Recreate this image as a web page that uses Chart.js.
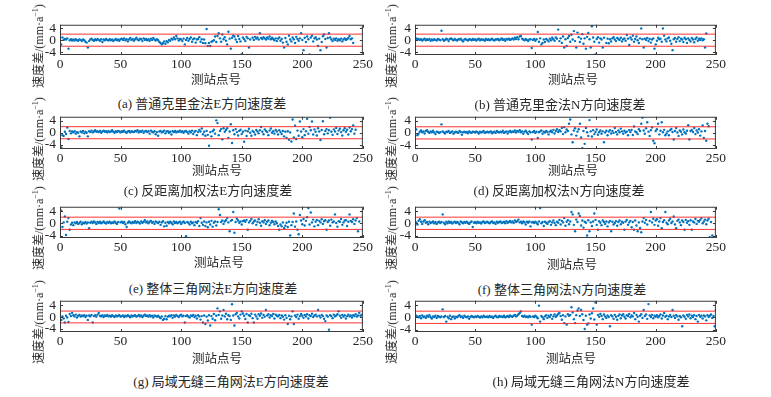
<!DOCTYPE html>
<html><head><meta charset="utf-8">
<script src="https://cdn.jsdelivr.net/npm/chart.js@4.4.1/dist/chart.umd.min.js"></script>
<style>
body{margin:0;width:771px;height:397px;background:#fff;position:relative;overflow:hidden;font-family:"Liberation Serif","Noto Sans CJK SC",serif;color:#262626}
canvas{position:absolute}
.t{position:absolute;white-space:nowrap;transform:translate(-50%,-50%);line-height:1}
.yl{position:absolute;white-space:nowrap;transform:translate(-50%,-50%) rotate(-90deg);font-size:12px;line-height:1}
sup{font-size:8px;vertical-align:5px;line-height:0}
</style></head><body>
<script>
const xTicks=[0,50,100,150,200,250];
const yTicks=[-4,0,4];
const limits=[2,-2];
const captions=["(a) 普通克里金法E方向速度差","(b) 普通克里金法N方向速度差","(c) 反距离加权法E方向速度差","(d) 反距离加权法N方向速度差","(e) 整体三角网法E方向速度差","(f) 整体三角网法N方向速度差","(g) 局域无缝三角网法E方向速度差","(h) 局域无缝三角网法N方向速度差"];
const xTitle="测站点号";

const eKriging=[-1.4,0.9,0.1,0.4,0.2,0.6,-2.8,0.0,0.3,-0.1,
0.2,-0.1,0.3,0.0,-0.2,0.2,0.1,-0.3,0.2,0.0,
-0.5,-0.8,-2.4,-0.3,0.2,0.5,0.1,-0.2,0.3,0.0,
0.4,0.1,-0.2,0.3,-0.6,0.2,0.0,0.4,0.1,-0.1,
0.3,0.0,0.2,-0.3,0.1,0.4,0.0,0.2,-0.2,0.3,
0.5,0.1,0.6,0.0,0.3,-0.4,0.2,0.7,0.1,0.4,
-0.2,0.3,0.8,0.2,0.0,0.5,0.3,-0.3,0.6,0.1,
0.4,0.0,0.3,-0.2,0.5,0.1,0.7,0.2,-0.1,0.3,
0.0,-0.6,-0.9,-1.4,-1.0,-0.4,-1.2,-0.3,-0.7,0.1,
-0.2,0.5,0.2,0.9,0.3,1.4,0.6,-0.1,0.4,0.2,
-0.3,0.5,-1.4,0.1,0.7,-0.2,0.4,0.9,-0.5,0.3,
0.6,-0.8,0.2,0.4,1.0,-0.5,0.3,-0.9,0.2,-1.0,
3.7,-1.9,-0.9,-1.9,-0.5,-0.3,0.0,1.2,-0.6,1.4,
2.3,0.6,-0.5,1.9,0.3,1.0,-0.2,-1.4,2.8,0.5,
-2.8,0.8,1.5,1.2,0.2,-0.6,1.4,0.4,-0.4,-4.6,
0.9,0.3,-0.3,1.1,0.6,-2.4,0.2,-4.9,0.8,0.1,
1.1,0.5,0.9,0.2,2.3,0.7,0.4,1.0,0.6,0.2,
0.9,0.5,1.2,0.3,0.8,0.4,0.0,0.6,-0.3,0.5,
0.9,-0.2,0.4,-0.8,-2.4,0.7,-0.5,-1.4,1.5,0.2,
-0.4,0.9,0.3,-0.9,1.1,0.4,-0.2,0.6,2.3,0.1,
-3.3,0.8,-0.6,1.2,0.3,-4.7,0.9,1.5,-0.4,0.6,
1.0,0.2,-1.9,0.5,-3.3,-0.6,1.3,1.9,0.4,-2.4,
0.7,2.3,0.9,0.2,-0.3,0.5,0.1,0.6,-0.2,0.3,
0.0,0.5,-0.4,0.2,0.6,0.1,0.4,0.7,1.4,0.3,0.6,-0.9];

const nKriging=[0.6,0.2,0.4,0.1,0.3,-0.1,0.2,0.5,0.0,0.3,
0.1,0.4,-0.2,0.2,0.0,0.3,0.1,-0.1,0.4,0.2,
0.0,3.1,0.3,-0.2,0.1,0.5,0.2,-0.3,0.4,0.6,
0.2,0.0,0.4,0.1,-0.1,0.3,0.2,0.5,0.0,-0.4,
0.2,0.4,0.1,-0.1,0.3,0.2,0.0,0.4,0.1,0.3,
-0.1,0.2,0.5,0.0,0.3,0.1,0.2,-0.2,0.4,0.1,
0.3,0.0,0.2,0.5,0.1,-0.1,0.3,0.2,0.4,0.0,
0.2,0.6,0.1,0.3,-0.2,0.4,0.2,0.5,0.1,0.3,
0.6,0.2,0.8,0.4,1.0,0.3,1.2,1.4,0.5,0.2,
0.0,0.4,0.1,-0.3,0.2,0.3,-2.6,0.1,0.4,-0.2,
0.3,2.7,-0.5,0.6,-1.4,-0.9,0.2,-0.6,0.4,0.1,
-0.4,0.5,0.0,0.8,0.3,-0.2,0.9,0.5,3.5,-0.3,
0.6,-0.9,1.2,-2.4,0.3,-1.9,0.7,1.4,-0.5,1.8,
0.2,3.0,-0.3,-2.4,2.5,1.0,-0.6,0.5,2.0,-1.2,
0.6,-2.8,1.1,2.4,0.3,-2.4,4.6,0.9,-0.5,-4.7,
0.4,1.0,-0.8,0.6,0.2,-2.4,0.8,-5.0,-0.9,0.5,
-1.0,0.3,-0.4,0.6,1.0,0.2,-0.3,0.7,0.4,0.1,
0.8,-0.4,0.3,0.6,-0.2,1.7,0.5,-1.6,0.9,0.2,
1.5,-0.5,0.4,1.2,0.0,-0.9,0.6,3.9,0.3,-2.4,
0.5,0.1,0.7,-0.3,0.4,-0.8,0.2,0.6,-2.8,-1.4,
-0.2,0.8,0.3,0.5,-0.5,3.9,1.5,0.2,-0.4,0.6,
0.9,-0.2,-1.2,-3.3,0.3,0.7,-0.5,0.4,1.0,-0.3,
0.5,0.2,-0.6,0.8,0.3,-0.9,0.6,0.1,-0.4,0.7,
0.2,-0.7,0.4,0.9,-0.2,0.5,0.1,0.6,0.0,0.3,-2.4,2.2];

const eIdw=[-4.9,-0.8,-1.1,0.3,-0.4,1.7,-2.1,0.6,-0.2,0.4,
0.1,0.5,-0.3,0.2,0.0,-1.2,0.4,0.1,0.6,-0.2,
0.3,0.0,-1.2,0.5,0.2,0.7,0.1,0.4,0.8,0.3,
0.5,0.2,0.6,0.0,0.4,0.7,0.3,0.5,0.1,0.6,
0.2,0.4,0.8,0.3,0.0,0.5,0.2,0.6,0.4,0.1,
0.5,0.3,0.7,0.2,0.0,0.4,0.6,0.1,0.5,0.3,
0.2,0.6,0.4,0.8,0.1,0.5,0.3,0.7,0.0,0.4,
0.6,0.2,0.5,-0.3,0.7,0.3,0.1,0.5,-0.5,0.2,
-1.0,0.4,0.6,0.1,0.3,0.7,-0.2,0.4,0.5,0.0,
0.3,-0.6,0.5,0.2,0.6,0.1,0.4,0.3,0.7,0.2,
0.5,0.0,0.4,0.6,0.2,-0.3,0.5,0.1,0.7,-0.4,
0.3,0.6,-0.8,0.2,0.9,0.4,1.4,-0.5,0.3,-1.0,
0.6,-0.7,-4.3,0.2,-1.2,0.5,1.0,-0.3,4.1,3.2,
-0.8,0.6,1.2,-2.2,1.5,0.3,0.9,1.5,-1.7,0.4,
2.8,-3.4,0.8,-0.5,1.2,0.2,-0.9,0.6,1.0,-0.4,
0.3,-3.0,0.7,-1.1,0.5,1.3,0.0,-1.0,0.6,0.2,
-0.6,0.9,0.4,-0.2,0.8,1.9,0.3,-0.5,1.1,0.6,
0.2,-0.8,0.7,1.4,0.0,0.5,-0.3,0.9,0.4,-0.6,
0.8,0.2,-0.4,0.6,-1.2,0.3,-1.7,0.5,-2.3,0.1,
-2.9,4.4,-1.6,2.3,-2.1,0.7,-1.0,3.7,0.4,-1.5,
1.2,-0.8,0.5,4.6,-0.3,1.9,0.8,3.7,-0.6,1.1,
0.3,-0.9,1.5,0.4,-2.4,0.9,3.8,-0.5,0.6,1.2,
-0.2,0.8,5.0,0.3,-0.7,1.1,0.4,1.6,-0.4,0.7,
1.3,0.2,-0.9,0.8,1.5,0.3,1.0,-0.6,1.7,0.5,
1.2,2.4,-0.3,1.0];

const nIdw=[1.1,-0.8,-0.3,0.4,0.8,0.2,0.5,-0.2,0.6,0.9,
0.3,0.0,0.5,0.2,0.7,0.1,-0.4,0.4,0.3,0.0,
0.2,2.8,0.5,0.1,-0.2,0.4,0.3,0.6,0.0,0.2,
0.5,-0.3,0.1,0.4,0.2,0.0,0.6,0.3,-0.6,0.2,
0.4,0.1,0.3,-0.1,0.5,0.2,0.0,0.4,0.3,0.1,
0.5,0.2,-0.2,0.4,0.1,0.3,0.6,0.0,0.2,0.4,
0.1,0.3,0.5,-0.1,0.2,0.4,0.0,0.6,0.3,0.1,
0.4,0.2,0.7,0.0,0.3,0.5,-0.2,0.4,0.6,0.2,
0.5,0.3,0.8,0.1,0.6,0.4,0.9,0.2,0.5,-0.3,
0.4,0.7,0.1,-0.4,0.5,0.2,-2.2,0.3,0.6,0.0,
0.4,-1.7,0.2,0.5,0.8,-0.3,0.4,0.1,0.6,0.3,
-0.5,0.4,0.7,0.2,1.0,-0.2,0.6,1.2,0.3,0.9,
0.5,1.6,-0.4,1.9,0.2,1.1,0.6,3.0,4.4,-0.5,
-3.1,0.8,1.5,-0.9,0.4,1.2,3.0,-1.5,-5.0,0.6,
-3.6,1.6,0.2,-1.0,4.2,0.5,-1.2,0.9,-0.4,0.3,
1.1,-0.6,0.2,0.8,-0.3,0.5,-3.1,0.1,0.7,-0.8,
0.4,0.9,-0.2,0.6,0.0,1.6,0.3,-0.5,0.8,0.2,
1.4,0.5,-0.3,0.7,0.1,0.4,-0.8,0.9,0.3,1.0,
-0.7,2.1,0.5,0.2,-0.4,1.2,0.6,3.0,5.0,0.8,
-0.3,1.5,3.5,0.4,-1.0,0.9,1.8,-2.6,-3.4,0.6,
1.2,3.0,-0.5,0.7,3.5,0.2,1.0,-0.8,-0.2,0.5,
-0.8,0.9,1.3,0.3,-2.2,0.6,1.6,0.1,-1.0,0.8,
0.4,-0.5,1.1,0.2,-0.2,0.7,2.5,-2.2,0.6,1.0,
0.3,1.6,-0.4,0.8,0.1,1.2,-0.9,0.5,2.4,-1.7,
0.6,-2.6,3.0,2.2];

const eWhole=[4.1,-1.2,0.3,2.2,-3.8,0.5,1.7,-2.1,-0.4,0.2,
-0.6,0.3,0.0,0.4,-0.2,0.1,0.5,-0.3,0.2,0.0,
0.4,-0.1,0.3,-1.6,0.2,0.5,0.1,0.6,0.3,-0.2,
0.4,0.1,0.5,0.0,0.3,0.6,0.2,-0.1,0.4,0.2,
0.5,0.0,0.3,0.1,0.6,0.2,-0.2,0.4,4.8,0.3,
0.5,0.1,0.4,-0.3,-1.2,0.2,0.6,0.3,0.0,0.4,
0.2,0.7,0.1,0.5,0.3,-0.1,0.6,0.2,0.4,1.0,
0.3,0.6,0.0,0.5,0.8,0.2,0.4,-0.2,0.6,0.3,
0.1,0.5,-0.5,0.3,0.7,-1.0,0.2,-0.8,0.4,0.0,
0.5,0.2,-0.3,0.6,0.1,0.4,0.0,0.3,0.5,-0.2,
0.3,0.6,0.1,-4.2,0.4,0.2,-0.4,0.5,0.0,0.3,
-0.6,0.4,0.1,0.7,-0.9,1.7,0.2,-0.5,0.6,-0.9,
0.3,-1.3,0.5,-0.4,0.8,-1.1,0.2,0.6,-0.7,0.4,
4.6,2.7,0.4,0.9,-0.2,0.6,1.0,1.7,0.3,-2.6,
0.8,1.1,3.7,-3.1,0.4,1.5,0.9,0.2,0.6,-0.4,
0.7,0.9,0.5,1.1,-2.1,0.3,0.8,1.4,0.0,0.6,
0.9,-0.5,0.4,1.3,0.2,-0.8,0.7,0.3,1.0,-0.2,
0.5,0.9,-0.6,0.2,0.8,0.4,-0.3,0.6,0.0,-0.9,
-2.1,-0.4,-1.0,0.3,-1.6,-0.8,0.2,-1.2,0.5,-4.0,
-0.6,0.4,3.2,-1.1,0.6,-2.1,-3.6,2.7,0.9,-0.3,
1.4,-0.7,0.8,2.0,5.0,-0.4,3.5,0.3,1.2,-1.0,
0.5,1.1,-0.6,0.8,0.3,1.3,-0.2,0.7,1.0,-2.1,
0.4,0.9,-0.8,1.2,0.3,0.6,2.9,0.1,-1.1,0.7,
0.5,1.4,-0.5,0.3,0.9,1.0,-0.9,0.5,2.9,0.8,
0.4,1.3,-0.2,0.9,1.7,-2.6,0.6];

const nWhole=[0.3,-0.4,0.8,1.3,0.5,-0.2,0.6,1.0,0.2,0.4,
-0.3,0.5,0.1,0.3,0.6,0.0,0.4,-0.2,0.3,0.5,
0.1,0.4,2.9,0.2,-0.3,0.5,0.0,0.6,0.2,0.4,
-0.1,0.3,0.5,0.1,0.4,0.2,-0.3,0.6,0.3,0.0,
0.4,0.2,0.5,0.1,-0.2,0.3,0.6,-1.2,0.2,0.4,
0.0,0.5,0.2,0.3,-0.1,0.4,0.6,0.1,0.3,0.5,
0.2,0.0,0.4,0.6,0.1,0.3,-0.2,0.5,0.2,0.4,
0.6,0.1,0.3,0.5,0.0,0.7,0.2,0.4,0.8,0.3,
0.6,0.1,0.9,0.4,0.7,1.2,0.3,0.5,0.0,0.6,
0.3,-0.4,0.5,0.2,0.6,-1.0,0.3,0.4,0.1,0.5,
0.2,-0.3,0.6,5.0,0.0,0.4,-0.9,0.5,0.2,-0.2,
0.4,0.7,-0.5,0.3,0.9,0.1,-0.6,0.5,0.2,1.1,
-0.4,0.8,0.3,1.7,-0.8,0.5,1.0,-0.3,0.6,3.7,
2.9,-0.5,-2.6,1.2,0.4,3.2,2.4,-0.7,0.9,-1.4,
0.5,0.2,-4.0,1.0,-2.6,0.3,-0.9,0.6,3.2,1.1,
-0.5,-2.1,0.7,0.2,-0.6,0.9,0.4,-0.2,0.6,-1.0,
0.3,0.8,-2.6,0.5,-0.4,0.1,0.7,-0.8,0.4,0.9,
-0.3,0.5,0.2,-2.1,0.6,1.1,-0.5,0.3,0.8,-1.3,
0.4,-2.1,0.9,-0.7,-2.6,0.3,-1.5,-2.9,0.6,1.7,
0.2,1.1,-0.4,-5.0,0.8,3.7,0.3,1.5,-0.5,0.9,
1.3,-0.8,0.6,1.7,-1.6,0.4,1.0,3.7,0.2,-0.3,
0.9,1.5,0.1,0.6,2.2,-0.4,-1.6,0.8,1.2,0.3,
-0.6,0.9,0.4,-2.1,1.1,0.2,0.7,-0.5,1.0,-2.1,
0.6,0.3,1.4,-0.2,0.8,0.5,1.1,1.7,0.0,0.6,
1.2,-0.3,0.9,1.5,-4.5,0.4,-4.0];

const eLocal=[-1.0,0.2,-0.5,-1.9,0.4,-0.2,-1.7,1.0,0.3,1.4,
0.6,0.2,0.8,-0.2,0.4,0.7,0.1,0.5,0.3,0.6,
0.0,0.4,-1.0,0.5,0.2,0.7,-1.9,0.3,0.6,0.1,
0.8,1.4,0.4,0.2,0.6,0.0,0.5,0.3,0.7,0.2,
0.4,0.1,0.6,0.3,0.0,0.5,0.2,0.4,0.6,0.1,
0.3,0.5,0.0,0.4,0.2,0.6,0.3,-0.1,0.5,0.2,
0.4,0.6,0.1,0.3,0.7,0.2,0.5,0.0,0.4,0.8,
0.3,0.5,0.1,0.6,0.2,0.4,-0.2,0.5,0.3,0.1,
0.4,0.0,-0.4,0.2,-1.0,-0.6,0.3,-0.8,0.1,0.4,
0.2,0.6,-0.3,0.5,0.1,0.7,0.3,0.0,0.5,0.8,
0.2,0.4,-1.9,0.3,0.6,0.1,-0.2,0.5,0.3,0.7,
0.0,0.4,-0.5,0.6,0.2,-0.9,0.3,-1.9,0.5,-2.4,
0.1,-1.2,0.6,-2.9,0.3,-0.6,1.0,-1.1,0.4,2.9,
0.7,1.9,-0.6,0.5,2.4,0.2,1.1,-0.8,0.6,0.3,
-1.0,4.3,0.5,-2.9,0.9,1.4,0.2,-0.5,0.8,1.9,
1.2,0.4,-0.7,1.0,-1.9,0.6,0.3,1.1,-0.4,-1.9,
0.8,0.2,-0.6,0.9,0.4,1.2,-0.3,0.7,0.1,2.4,
0.5,0.9,-0.2,0.6,0.3,1.0,-0.5,0.8,0.4,0.2,
0.7,-0.4,0.5,0.1,-0.9,0.6,-0.3,-2.4,0.4,-0.8,
0.2,1.9,-2.4,0.5,0.0,0.8,-0.6,0.3,1.0,0.4,
-0.3,0.7,0.2,0.9,-0.5,0.6,0.3,1.1,0.0,0.5,
0.8,0.2,2.4,0.4,-0.2,0.7,0.3,-0.6,-1.4,0.5,
0.1,-4.3,0.6,0.3,-0.4,0.8,0.2,0.5,0.9,1.9,
0.4,-0.3,0.7,0.1,0.6,-0.5,0.3,0.8,0.2,0.5,
-0.2,0.6,0.3,0.9,0.1,0.5,1.4,0.4,0.7,-1.0];

const nLocal=[0.5,0.2,0.0,0.4,-0.3,0.6,0.1,0.3,-0.2,0.5,
0.2,0.7,0.0,-0.4,0.3,0.1,0.5,-0.2,0.4,0.2,
0.0,0.3,2.6,0.1,0.4,-1.4,0.2,-0.3,0.5,-0.6,
0.1,0.3,-0.4,0.2,0.0,0.4,0.7,0.1,0.3,-0.2,
0.5,0.2,0.0,0.3,-0.5,0.1,0.4,0.2,0.0,0.3,
0.1,0.4,0.2,-0.1,0.3,0.0,0.5,0.2,0.1,0.3,
0.0,0.4,0.1,0.2,-0.2,0.3,0.5,0.1,0.0,0.4,
0.2,0.3,0.1,0.5,0.0,0.2,0.4,0.1,0.6,0.3,
0.2,0.5,0.8,0.3,0.6,1.0,1.4,1.9,0.4,0.2,
0.5,0.1,0.3,0.0,0.4,0.2,-2.4,0.3,0.1,0.5,
0.2,-0.3,3.8,-1.4,0.4,0.0,-0.6,0.3,0.7,-0.2,
0.5,0.1,0.8,-0.5,0.3,0.9,0.2,0.6,1.1,1.4,
0.4,-0.8,0.7,-1.9,0.3,-2.4,1.0,0.5,0.8,3.3,
1.6,-0.6,-1.9,0.7,2.2,2.9,0.4,2.4,1.0,-0.9,
-3.8,0.5,-2.4,-2.0,0.9,-0.4,1.3,2.9,-0.7,4.8,
-2.4,0.8,0.2,1.1,0.4,-0.6,0.9,0.3,-0.2,0.6,
0.1,-2.9,0.7,0.3,-0.5,0.8,0.2,-0.8,0.5,0.9,
-0.3,0.6,1.0,0.2,-0.4,0.7,0.4,1.1,0.0,0.6,
0.3,1.4,-0.6,0.8,0.2,-1.4,0.5,1.0,-0.2,2.4,
0.4,0.9,-0.5,4.3,0.6,0.1,0.8,-0.3,0.5,0.2,
0.7,0.0,0.4,0.9,-0.4,0.6,1.4,0.2,0.5,-0.6,
0.3,0.8,0.1,2.4,0.5,-0.2,0.7,0.3,-0.8,0.4,
0.0,-2.9,0.6,0.2,-0.5,0.8,0.3,0.9,-0.3,0.5,
0.1,0.7,-0.6,0.4,-1.4,0.8,0.2,0.5,-0.4,0.6,
0.3,-1.0,0.7,0.1,0.5,0.9,-0.2,0.4,-2.9,2.4];

const series=[eKriging,nKriging,eIdw,nIdw,eWhole,nWhole,eLocal,nLocal];
// layout (pixels): plot box [left, top, right, bottom]
const boxes=[[60,20,368,55],[415,20,721,55],[60,112,368,149],[415,112,721,149],[60,202,368,238],[415,202,721,238],[60,296,368,332],[415,296,721,332]];
const yRanges=[[-4.9,5.1],[-4.9,5.1],[-5.4,5.3],[-5.3,5.3],[-4.8,5.4],[-4.8,5.4],[-5.1,5.5],[-4.8,5.4]];
const capPos=[[202,103],[560,104],[208,190],[559,190],[213,288],[562,289],[231,381],[591,381]];
const xtPos=[[216,80],[573,80],[217,171],[573,171],[219,263],[572,265],[217,359],[571,359]];

const PL=40,PR=8,PT=6,PB=22;
const boxPlugin={id:'box',afterDatasetsDraw(c){
  const {ctx,chartArea:a,scales:{x,y}}=c;
  ctx.save();ctx.strokeStyle='#3a3a3a';ctx.lineWidth=1;
  ctx.strokeRect(a.left+.5,a.top+.5,a.right-a.left-1,a.bottom-a.top-1);
  ctx.beginPath();
  xTicks.forEach(v=>{const p=Math.round(x.getPixelForValue(v))+.5;ctx.moveTo(p,a.bottom);ctx.lineTo(p,a.bottom-3);ctx.moveTo(p,a.top);ctx.lineTo(p,a.top+3);});
  yTicks.forEach(v=>{const p=Math.round(y.getPixelForValue(v))+.5;ctx.moveTo(a.left,p);ctx.lineTo(a.left+3,p);ctx.moveTo(a.right,p);ctx.lineTo(a.right-3,p);});
  ctx.stroke();ctx.restore();
}};

function addText(cls,html,x,y,size){const d=document.createElement('div');d.className=cls;d.innerHTML=html;d.style.left=x+'px';d.style.top=y+'px';if(size)d.style.fontSize=size+'px';document.body.appendChild(d);}

series.forEach((vals,k)=>{
  const [L,T,R,B]=boxes[k];
  const cv=document.createElement('canvas');
  const W=R-L+PL+PR,H=B-T+PT+PB;
  cv.width=W;cv.height=H;cv.style.width=W+'px';cv.style.height=H+'px';
  cv.style.left=(L-PL)+'px';cv.style.top=(T-PT)+'px';
  document.body.appendChild(cv);
  const tickFont={family:'Liberation Serif',size:13.5,lineHeight:1};
  new Chart(cv,{type:'scatter',
    data:{datasets:[
      {data:vals.map((v,i)=>({x:i+1,y:v})),backgroundColor:'#0072BD',borderWidth:0,pointRadius:1.2,pointHoverRadius:1.2,order:2},
      ...limits.map(l=>({data:[{x:0,y:l},{x:250,y:l}],showLine:true,borderColor:'rgba(255,30,30,0.9)',borderWidth:1,pointRadius:0,order:1}))
    ]},
    options:{responsive:false,animation:false,devicePixelRatio:1,events:[],
      layout:{padding:{left:0,right:PR,top:PT,bottom:0}},
      plugins:{legend:{display:false},tooltip:{enabled:false}},
      scales:{
        x:{type:'linear',min:0,max:250,afterBuildTicks:s=>{s.ticks=xTicks.map(v=>({value:v}));},afterFit:s=>{s.height=PB;},
           grid:{display:false,drawTicks:false},border:{display:false},
           ticks:{padding:3,color:'#262626',font:tickFont,maxRotation:0,autoSkip:false}},
        y:{type:'linear',min:yRanges[k][0],max:yRanges[k][1],afterBuildTicks:s=>{s.ticks=yTicks.map(v=>({value:v}));},afterFit:s=>{s.width=PL;},
           grid:{display:false,drawTicks:false},border:{display:false},
           ticks:{padding:4,color:'#262626',font:tickFont,autoSkip:false}}
      }},
    plugins:[boxPlugin]});
  addText('t',captions[k],capPos[k][0],capPos[k][1],13);
  addText('t',xTitle,xtPos[k][0],xtPos[k][1],12.5);
  const cx=k%2===0?39:392;
  addText('yl','速度差/(mm·a<sup>−1</sup>)',cx,(T+B)/2+8);
});
</script>
</body></html>
